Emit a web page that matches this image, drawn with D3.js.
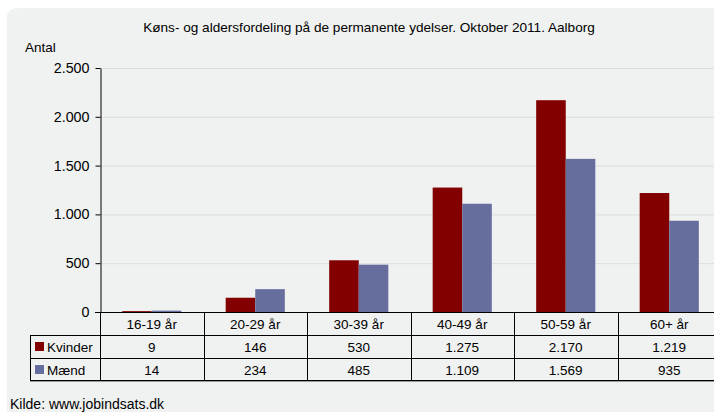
<!DOCTYPE html>
<html>
<head>
<meta charset="utf-8">
<script src="https://cdn.jsdelivr.net/npm/d3@7"></script>
<style>
  body { margin: 0; background: #fff; }
  svg { display: block; font-family: "Liberation Sans", Arial, sans-serif; }
</style>
</head>
<body>
<div id="chart"></div>
<script>
// data
let categories = ["16-19 år", "20-29 år", "30-39 år", "40-49 år", "50-59 år", "60+ år"];
let seriesNames = ["Kvinder", "Mænd"];
let kvinder = [9, 146, 530, 1275, 2170, 1219];
let maend = [14, 234, 485, 1109, 1569, 935];
let yTicks = [0, 500, 1000, 1500, 2000, 2500];
let colors = ["#830000", "#666e9e"];

let width = 714, height = 412;
let fmt = (v) => d3.format(",")(v).replace(/,/g, ".");

let svg = d3.select("#chart").append("svg")
    .attr("width", width)
    .attr("height", height);

// background panel
svg.append("path")
    .attr("d", "M7,18 Q7,8 17,8 L714,8 L714,412 L7,412 Z")
    .attr("fill", "#f0f2f1");

let x = d3.scaleBand()
    .domain(categories)
    .range([100, 721]);

let xInner = d3.scaleBand()
    .domain(seriesNames)
    .range([0, x.bandwidth()])
    .paddingOuter(0.75)
    .paddingInner(0);

let y = d3.scaleLinear()
    .domain([0, 2500])
    .range([312, 68]);

// title
svg.append("text")
    .attr("x", 369).attr("y", 32)
    .attr("text-anchor", "middle")
    .attr("font-size", 13.6)
    .text("Køns- og aldersfordeling på de permanente ydelser. Oktober 2011. Aalborg");

svg.append("text")
    .attr("x", 25).attr("y", 52)
    .attr("font-size", 13.5)
    .text("Antal");

// gridlines
svg.append("g")
    .selectAll("line")
    .data(yTicks.filter((d)=>d > 0))
    .enter().append("line")
    .attr("x1", 100).attr("x2", width)
    .attr("y1", (d)=>y(d) + 0.5).attr("y2", (d)=>y(d) + 0.5)
    .attr("stroke", "#dcdcdc");

// y axis
let yAxis = svg.append("g")
    .attr("transform", "translate(100.5,0)")
    .call(d3.axisLeft(y).tickValues(yTicks).tickFormat(fmt).tickSize(5).tickSizeOuter(0));
yAxis.attr("font-family", null);
yAxis.select(".domain").attr("stroke", "#000");
yAxis.selectAll("text").attr("font-size", 14.3).attr("fill", "#000").attr("x", -11);

// bars
let series = [kvinder, maend];
let groups = svg.append("g")
    .selectAll("g")
    .data(series)
    .enter().append("g")
    .attr("fill", (d, i)=>colors[i]);

groups.selectAll("rect")
    .data((d, i)=>d.map((v, j)=>({v: v, cat: categories[j], s: seriesNames[i]})))
    .enter().append("rect")
    .attr("x", (d)=>x(d.cat) + xInner(d.s))
    .attr("width", xInner.bandwidth())
    .attr("y", (d)=>y(d.v))
    .attr("height", (d)=>y(0) - y(d.v));

// zero line
svg.append("line")
    .attr("x1", 95).attr("x2", width)
    .attr("y1", 312.5).attr("y2", 312.5)
    .attr("stroke", "#000");

// data table
let rowTop = [312, 335, 358, 380];
let table = svg.append("g");

// horizontal lines
rowTop.slice(1).forEach((r)=>{
    table.append("line")
        .attr("x1", 30).attr("x2", width)
        .attr("y1", r + 0.5).attr("y2", r + 0.5)
        .attr("stroke", "#000");
});
table.append("line")
    .attr("x1", 30).attr("x2", width)
    .attr("y1", rowTop[3] + 1.5).attr("y2", rowTop[3] + 1.5)
    .attr("stroke", "#999");

// vertical lines
table.selectAll("line.v")
    .data(categories)
    .enter().append("line")
    .attr("class", "v")
    .attr("x1", (d)=>Math.round(x(d)) + 0.5).attr("x2", (d)=>Math.round(x(d)) + 0.5)
    .attr("y1", rowTop[0]).attr("y2", rowTop[3])
    .attr("stroke", "#000");
table.append("line")
    .attr("x1", 30.5).attr("x2", 30.5)
    .attr("y1", rowTop[1]).attr("y2", rowTop[3])
    .attr("stroke", "#000");

// header labels
table.selectAll("text.cat")
    .data(categories)
    .enter().append("text")
    .attr("class", "cat")
    .attr("x", (d)=>x(d) + x.bandwidth() / 2)
    .attr("y", rowTop[0] + 17)
    .attr("text-anchor", "middle")
    .attr("font-size", 13.5)
    .text((d)=>d);

// rows
series.forEach((vals, i)=>{
    let base = rowTop[i + 1];
    table.append("rect")
        .attr("x", 35).attr("y", base + 7)
        .attr("width", 9).attr("height", 9)
        .attr("fill", colors[i]);
    table.append("text")
        .attr("x", 47).attr("y", base + 17)
        .attr("font-size", 13.5)
        .text(seriesNames[i]);
    table.selectAll("text.r" + i)
        .data(vals)
        .enter().append("text")
        .attr("class", "r" + i)
        .attr("x", (d, j)=>x(categories[j]) + x.bandwidth() / 2)
        .attr("y", base + 17)
        .attr("text-anchor", "middle")
        .attr("font-size", 13.5)
        .text((d)=>fmt(d));
});

svg.append("text")
    .attr("x", 10).attr("y", 409)
    .attr("font-size", 14)
    .text("Kilde: www.jobindsats.dk");
</script>
</body>
</html>
